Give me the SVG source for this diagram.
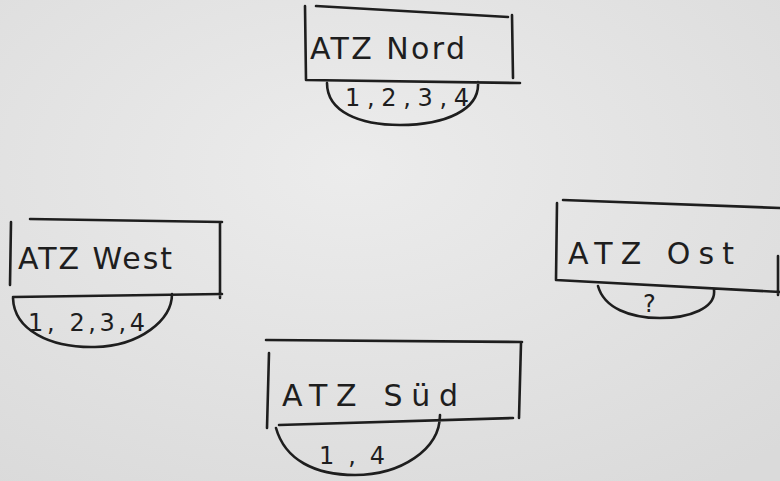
<svg xmlns="http://www.w3.org/2000/svg" width="780" height="481" viewBox="0 0 780 481">
<defs>
<radialGradient id="paper" cx="0.45" cy="0.35" r="0.8">
<stop offset="0" stop-color="#ececec"/>
<stop offset="1" stop-color="#dadada"/>
</radialGradient>
</defs>
<style>
.ln{fill:none;stroke:#1e1e1e;stroke-width:2.6;stroke-linecap:round;stroke-linejoin:round}
.t{font-family:"DejaVu Sans","Liberation Sans",sans-serif;fill:#1e1e1e}
.title{font-size:30px}
.num{font-size:24px}
</style>
<rect width="780" height="481" fill="url(#paper)"/>
<g id="nord">
<path class="ln" d="M316,6 L508,17 M305,6 L306,80 M512,15 L513,78 M306,80 L520,83 M327,83 C327,112 360,125 400,125 C445,125 480,110 478,82"/>
<text class="t title" x="310" y="59" textLength="155" lengthAdjust="spacing">ATZ Nord</text>
<text class="t num" x="345" y="106" textLength="124" lengthAdjust="spacing">1,2,3,4</text>
</g>
<g id="west">
<path class="ln" d="M30,219 L222,222 M11,222 L10,285 M220,222 L220,298 M13,297 L222,294 M13,298 C14,330 50,348 95,347 C140,346 172,320 172,294"/>
<text class="t title" x="18" y="269" textLength="154" lengthAdjust="spacing">ATZ West</text>
<text class="t num" x="28" y="331" textLength="117" lengthAdjust="spacing">1, 2,3,4</text>
</g>
<g id="ost">
<path class="ln" d="M563,200 L780,208 M557,203 L556,280 M556,280 L780,292 M778,256 L778,295 M598,286 C604,308 630,318 660,318 C690,318 716,308 714,290"/>
<text class="t title" x="568" y="264" textLength="166" lengthAdjust="spacing">ATZ Ost</text>
<text class="t num" x="643" y="312">?</text>
</g>
<g id="sued">
<path class="ln" d="M266,340 L522,342 M269,353 L267,428 M521,343 L519,418 M279,425 L513,418 M276,428 C285,460 315,475 355,475 C400,475 440,450 440,415"/>
<text class="t title" x="282" y="406" textLength="176" lengthAdjust="spacing">ATZ Süd</text>
<text class="t num" x="319" y="464" textLength="66" lengthAdjust="spacing">1,4</text>
</g>
<g id="connectors"/>
</svg>
